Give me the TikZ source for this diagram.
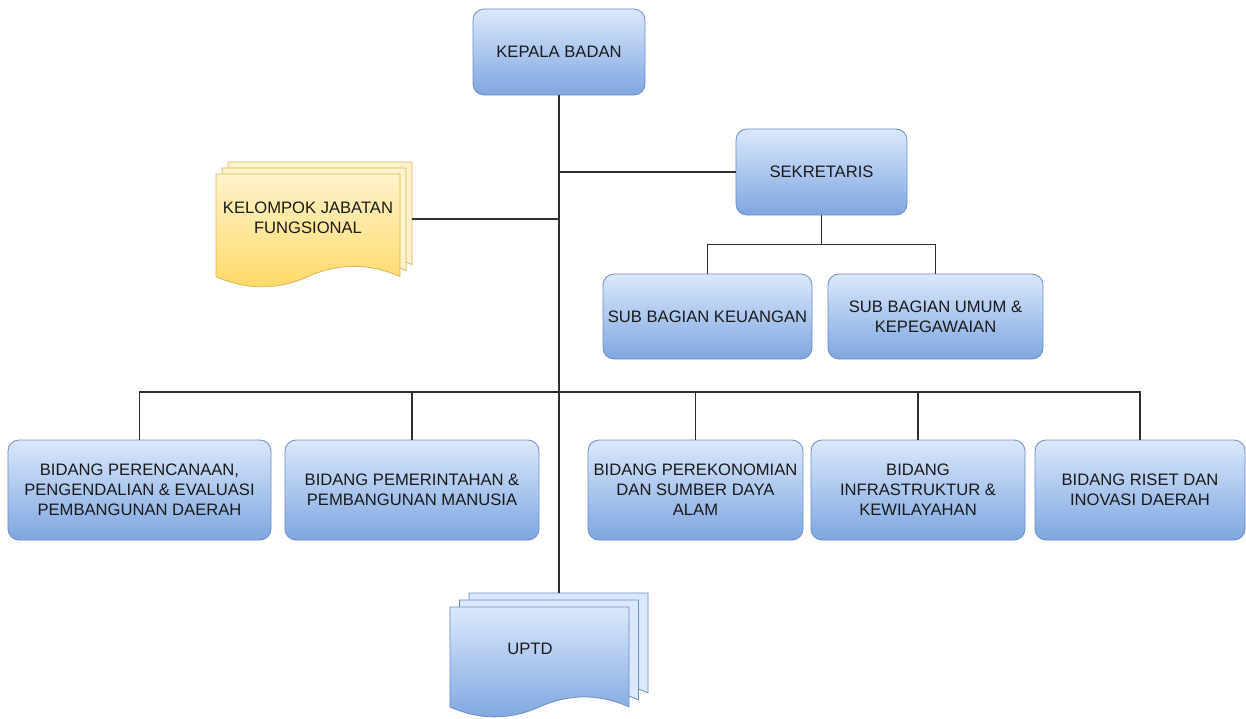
\documentclass[tikz,border=0pt]{standalone}
\usepackage{fontspec}
\setmainfont{Liberation Sans}
\definecolor{bTop}{HTML}{DAE8FC}
\definecolor{bBot}{HTML}{7EA6E0}
\definecolor{bStroke}{HTML}{6C8EBF}
\definecolor{yTop}{HTML}{FFF2CC}
\definecolor{yBot}{HTML}{FFD966}
\definecolor{yStroke}{HTML}{D6B656}
\definecolor{lineC}{HTML}{2E2E2E}
\definecolor{txtC}{HTML}{1A1A1A}
\newcommand{\docsheet}[5]{%
  \path[#5] (#1,#2) -- ({#1+#3},#2) -- ({#1+#3},{#2+0.9*#4})
    .. controls ({#1+0.8333*#3},{#2+0.78*#4}) and ({#1+0.6667*#3},{#2+0.78*#4}) .. ({#1+0.5*#3},{#2+0.9*#4})
    .. controls ({#1+0.3333*#3},{#2+1.02*#4}) and ({#1+0.1667*#3},{#2+1.02*#4}) .. (#1,{#2+0.9*#4}) -- cycle;}
\tikzset{
  box/.style={draw=bStroke, line width=0.8pt, rounded corners=11pt, top color=bTop, bottom color=bBot,
    align=center, text=txtC, font=\fontsize{16.6}{20}\selectfont, inner sep=2pt},
  link/.style={draw=lineC, line width=1.4pt},
  bsheet/.style={draw=bStroke, line width=0.8pt, fill=bTop},
  bfront/.style={draw=bStroke, line width=0.8pt, top color=bTop, bottom color=bBot},
  ysheet/.style={draw=yStroke, line width=0.8pt, fill=yTop},
  yfront/.style={draw=yStroke, line width=0.8pt, top color=yTop, bottom color=yBot},
  doctext/.style={align=center, text=txtC, font=\fontsize{16.6}{20.5}\selectfont}
}
\begin{document}
\begin{tikzpicture}[x=1pt,y=-1pt]
\useasboundingbox[fill=white] (0,0) rectangle (1246,718);

% boxes
\node[box, minimum width=172pt, minimum height=86pt] (kb) at (559,52) {KEPALA BADAN};
\node[box, minimum width=171pt, minimum height=86pt] (sek) at (821.5,172) {SEKRETARIS};
\node[box, minimum width=209pt, minimum height=85pt] (sk1) at (707.5,316.5) {SUB BAGIAN KEUANGAN};
\node[box, minimum width=215pt, minimum height=85pt] (sk2) at (935.5,316.5) {SUB BAGIAN UMUM \&\\KEPEGAWAIAN};

\node[box, minimum width=263pt, minimum height=100pt] (b1) at (139.5,490) {BIDANG PERENCANAAN,\\PENGENDALIAN \& EVALUASI\\PEMBANGUNAN DAERAH};
\node[box, minimum width=254pt, minimum height=100pt] (b2) at (412,490) {BIDANG PEMERINTAHAN \&\\PEMBANGUNAN MANUSIA};
\node[box, minimum width=215pt, minimum height=100pt] (b3) at (695.5,490) {BIDANG PEREKONOMIAN\\DAN SUMBER DAYA\\ALAM};
\node[box, minimum width=214pt, minimum height=100pt] (b4) at (918,490) {BIDANG\\INFRASTRUKTUR \&\\KEWILAYAHAN};
\node[box, minimum width=210pt, minimum height=100pt] (b5) at (1140,490) {BIDANG RISET DAN\\INOVASI DAERAH};

% document stacks
\docsheet{228}{162}{184}{114}{ysheet}
\docsheet{222}{168}{184}{114}{ysheet}
\docsheet{216}{174}{184}{114}{yfront}
\node[doctext] (kjf) at (308,218) {KELOMPOK JABATAN\\FUNGSIONAL};
\coordinate (kjfE) at (412,219);

\docsheet{469}{593}{179}{111}{bsheet}
\docsheet{459.5}{600}{179}{111}{bsheet}
\docsheet{450}{607}{179}{111}{bfront}
\node[doctext] (uptd) at (530,649) {UPTD};
\coordinate (uptdT) at (559,593);

% connectors
\coordinate (bus) at (559,392);
\draw[link] (kb.south) -- (uptdT);
\draw[link] (kb.south |- sek.west) -- (sek.west);
\draw[link] (kjfE) -- (kjfE -| kb.south);
\draw[link] (sek.south) -- ++(0,29) -| (sk1.north);
\draw[link] (sek.south) -- ++(0,29) -| (sk2.north);
\draw[link] (b1.north) |- (bus) -| (b5.north);
\draw[link] (b2.north) -- (b2.north |- bus);
\draw[link] (b3.north) -- (b3.north |- bus);
\draw[link] (b4.north) -- (b4.north |- bus);
\end{tikzpicture}
\end{document}
